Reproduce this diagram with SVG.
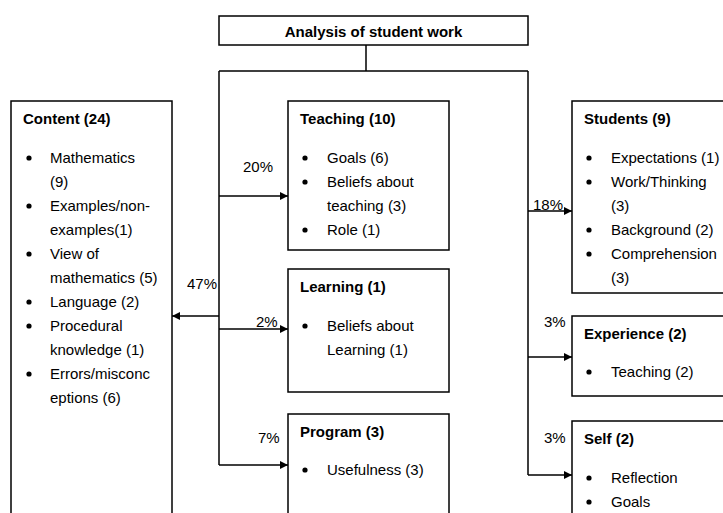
<svg xmlns="http://www.w3.org/2000/svg" width="723" height="513" viewBox="0 0 723 513">
<style>
text{font-family:"Liberation Sans",Arial,sans-serif;font-size:15px;fill:#000}
.b{font-weight:bold}
.box{fill:#fff;stroke:#000;stroke-width:1.5}
.ln{fill:none;stroke:#000;stroke-width:1.5}
</style>
<defs>
<marker id="ah" markerWidth="8" markerHeight="8" refX="8" refY="4" orient="auto" markerUnits="userSpaceOnUse">
<path d="M0,0 L8,4 L0,8 Z" fill="#000"/>
</marker>
<g id="bul"><circle r="2.6" fill="#000"/></g>
</defs>
<rect width="723" height="513" fill="#fff"/>
<g id="connectors">
<path class="ln" d="M366,45 V71 M219,71 H528 M219,71 V465 M528,71 V475"/>
<path class="ln" d="M219,196 H288" marker-end="url(#ah)"/>
<path class="ln" d="M219,316 H172" marker-end="url(#ah)"/>
<path class="ln" d="M219,329 H288" marker-end="url(#ah)"/>
<path class="ln" d="M219,465 H288" marker-end="url(#ah)"/>
<path class="ln" d="M528,211 H572" marker-end="url(#ah)"/>
<path class="ln" d="M528,357 H572" marker-end="url(#ah)"/>
<path class="ln" d="M528,475 H572" marker-end="url(#ah)"/>
<text x="243" y="172">20%</text>
<text x="187" y="289">47%</text>
<text x="256" y="327">2%</text>
<text x="258" y="443">7%</text>
<text x="533" y="210">18%</text>
<text x="544" y="327">3%</text>
<text x="544" y="443">3%</text>
</g>
<g id="title">
<rect class="box" x="219" y="16" width="309" height="29"/>
<text class="b" x="373.5" y="37" text-anchor="middle">Analysis of student work</text>
</g>
<g id="content">
<rect class="box" x="11" y="101" width="161" height="420"/>
<text class="b" x="23" y="124">Content (24)</text>
<use href="#bul" x="29" y="158"/><text x="50" y="163">Mathematics</text>
<text x="50" y="187">(9)</text>
<use href="#bul" x="29" y="206"/><text x="50" y="211">Examples/non-</text>
<text x="50" y="235">examples(1)</text>
<use href="#bul" x="29" y="254"/><text x="50" y="259">View of</text>
<text x="50" y="283">mathematics (5)</text>
<use href="#bul" x="29" y="302"/><text x="50" y="307">Language (2)</text>
<use href="#bul" x="29" y="326"/><text x="50" y="331">Procedural</text>
<text x="50" y="355">knowledge (1)</text>
<use href="#bul" x="29" y="374"/><text x="50" y="379">Errors/misconc</text>
<text x="50" y="403">eptions (6)</text>
</g>
<g id="teaching">
<rect class="box" x="288" y="101" width="161" height="149"/>
<text class="b" x="300" y="124">Teaching (10)</text>
<use href="#bul" x="305" y="158"/><text x="327" y="163">Goals (6)</text>
<use href="#bul" x="305" y="182"/><text x="327" y="187">Beliefs about</text>
<text x="327" y="211">teaching (3)</text>
<use href="#bul" x="305" y="230"/><text x="327" y="235">Role (1)</text>
</g>
<g id="learning">
<rect class="box" x="288" y="269" width="161" height="123"/>
<text class="b" x="300" y="292">Learning (1)</text>
<use href="#bul" x="305" y="326"/><text x="327" y="331">Beliefs about</text>
<text x="327" y="355">Learning (1)</text>
</g>
<g id="program">
<rect class="box" x="288" y="414" width="161" height="110"/>
<text class="b" x="300" y="437">Program (3)</text>
<use href="#bul" x="305" y="470"/><text x="327" y="475">Usefulness (3)</text>
</g>
<g id="students">
<rect class="box" x="572" y="101" width="160" height="192"/>
<text class="b" x="584" y="124">Students (9)</text>
<use href="#bul" x="589" y="158"/><text x="611" y="163">Expectations (1)</text>
<use href="#bul" x="589" y="182"/><text x="611" y="187">Work/Thinking</text>
<text x="611" y="211">(3)</text>
<use href="#bul" x="589" y="230"/><text x="611" y="235">Background (2)</text>
<use href="#bul" x="589" y="254"/><text x="611" y="259">Comprehension</text>
<text x="611" y="283">(3)</text>
</g>
<g id="experience">
<rect class="box" x="572" y="316" width="160" height="80"/>
<text class="b" x="584" y="339">Experience (2)</text>
<use href="#bul" x="589" y="372"/><text x="611" y="377">Teaching (2)</text>
</g>
<g id="self">
<rect class="box" x="572" y="421" width="160" height="110"/>
<text class="b" x="584" y="444">Self (2)</text>
<use href="#bul" x="589" y="478"/><text x="611" y="483">Reflection</text>
<use href="#bul" x="589" y="502"/><text x="611" y="507">Goals</text>
</g>
</svg>
